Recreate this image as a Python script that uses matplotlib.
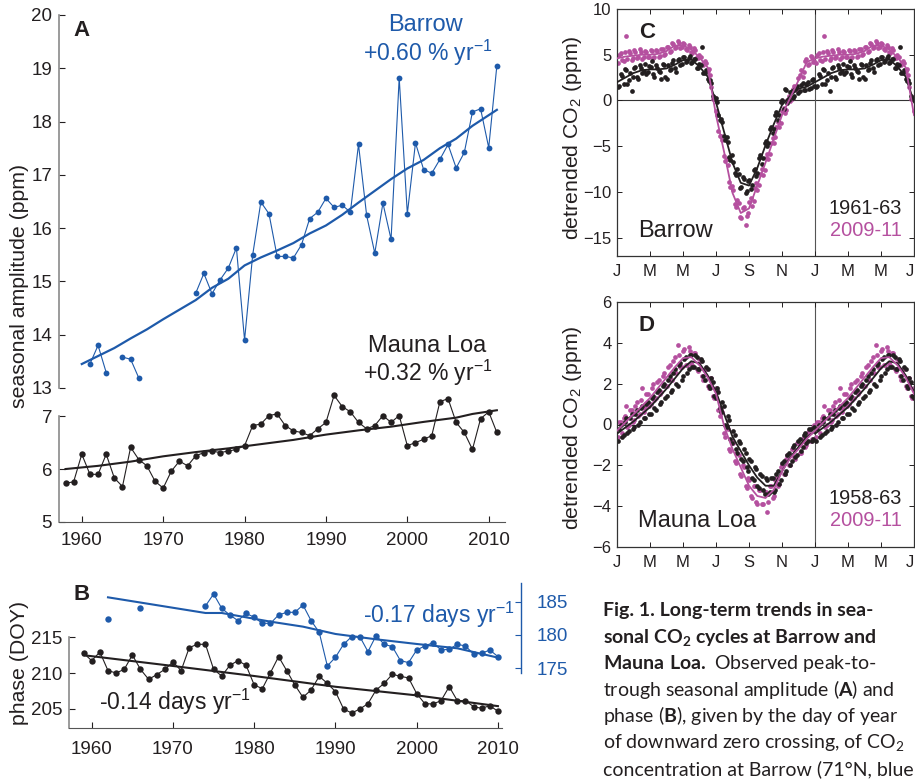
import numpy as np
import matplotlib
matplotlib.use("Agg")
import matplotlib.pyplot as plt
from matplotlib import font_manager

W, H = 915, 782
BLUE = "#1e5aaa"
MAGENTA = "#b5509f"
INK = "#231f20"
GRAY = "#8a8a8a"

# --- panel A: peak-to-trough seasonal amplitude (ppm)
brw_amp_years = [1961, 1962, 1963, 1965, 1966, 1967] + list(range(1974, 2012))
brw_amp = [13.45, 13.80, 13.29, 13.58, 13.54, 13.19,
           14.78, 15.15, 14.77, 15.03, 15.25, 15.63, 13.90, 15.50, 16.49, 16.27,
           15.47, 15.47, 15.44, 15.69, 16.18, 16.30, 16.56, 16.39, 16.43, 16.30,
           17.57, 16.24, 15.53, 16.47, 15.79, 18.82, 16.27, 17.60, 17.10, 17.03,
           17.29, 17.57, 17.13, 17.42, 18.18, 18.24, 17.51, 19.05]
brw_trend_years = [1960, 1962, 1964, 1966, 1968, 1970, 1972, 1974, 1976, 1978, 1980, 1982, 1984, 1986,
                   1988, 1990, 1992, 1994, 1996, 1998, 2000, 2002, 2004, 2006, 2008, 2010, 2011]
brw_trend = [13.45, 13.60, 13.75, 13.93, 14.10, 14.29, 14.47, 14.65, 14.88, 15.05, 15.30, 15.45, 15.58, 15.72,
             15.90, 16.05, 16.25, 16.48, 16.70, 16.92, 17.12, 17.28, 17.50, 17.68, 17.92, 18.12, 18.22]

mlo_amp_years = list(range(1958, 2012))
mlo_amp = [5.73, 5.76, 6.28, 5.90, 5.90, 6.28, 5.83, 5.67, 6.41, 6.18,
           6.06, 5.77, 5.64, 5.96, 6.15, 6.06, 6.25, 6.31, 6.34, 6.31,
           6.34, 6.37, 6.44, 6.82, 6.85, 7.01, 7.04, 6.82, 6.72, 6.69,
           6.63, 6.76, 6.88, 7.39, 7.18, 7.08, 6.88, 6.76, 6.82, 7.01,
           6.88, 7.01, 6.44, 6.50, 6.56, 6.63, 7.27, 7.33, 6.88, 6.69,
           6.37, 6.95, 7.08, 6.69]
mlo_trend_years = [1958, 1962, 1966, 1970, 1974, 1978, 1982, 1986, 1990, 1994, 1998, 2002, 2006, 2008, 2011]
mlo_trend = [6.00, 6.06, 6.14, 6.24, 6.32, 6.39, 6.47, 6.55, 6.65, 6.73, 6.80, 6.89, 6.97, 7.04, 7.11]

# --- panel B: phase, day of year of downward zero crossing
mlo_phase_years = list(range(1959, 2011))
mlo_phase = [212.77, 211.74, 212.95, 210.35, 210.02, 210.53, 212.53, 210.53, 209.14, 209.79,
             210.53, 211.56, 210.35, 213.56, 214.02, 214.02, 210.53, 209.60, 211.09, 211.74,
             211.09, 208.35, 207.84, 210.07, 212.30, 210.35, 208.35, 206.63, 207.65, 209.56,
             208.58, 207.42, 205.00, 204.44, 205.00, 205.74, 207.65, 208.58, 209.84, 209.56,
             209.33, 207.14, 205.74, 205.70, 206.16, 208.12, 206.16, 206.16, 205.33, 205.09,
             205.47, 204.67]
mlo_phase_trend_years = [1959, 1970, 1980, 1990, 2000, 2010]
mlo_phase_trend = [212.5, 211.0, 209.6, 208.1, 206.9, 205.4]

brw_phase_years = [1962, 1966] + list(range(1974, 2011))
brw_phase = [182.35, 184.00,
             184.35, 186.15, 184.00, 183.00, 182.15, 183.25, 182.65, 181.75, 181.75, 183.00,
             183.40, 183.40, 184.50, 182.15, 180.40, 175.35, 176.65, 178.60, 179.75, 179.75,
             177.50, 179.90, 178.60, 178.25, 176.15, 175.85, 177.75, 178.35, 178.85, 177.75,
             177.85, 178.60, 178.35, 177.15, 177.25, 177.75, 176.75]
brw_phase_trend_years = [1962, 1974, 1976, 1982, 1986, 1990, 1995, 2000, 2005, 2010]
brw_phase_trend = [185.65, 183.30, 183.30, 182.00, 181.25, 180.15, 179.35, 178.65, 178.00, 176.60]

# --- panels C, D: detrended CO2 over the year (ppm), two interleaved sample sets
sample_day_a = np.arange(2, 365, 5)
sample_day_b = np.arange(4, 366, 5)
brw_early_a = [1.5, 2.9, 1.8, 3.3, 2.2, 1.0, 3.6, 2.6, 3.9, 3.0,
               4.0, 3.1, 3.7, 2.9, 3.9, 3.2, 2.4, 3.9, 2.3, 3.3,
               4.1, 3.6, 4.4, 3.9, 4.7, 4.2, 4.6, 4.1, 4.5, 3.6,
               4.0, 5.9, 3.0, 2.3, 2.2, 0.5, 0.3, -1.6, -2.0, -3.9,
               -4.0, -6.2, -6.0, -7.9, -7.5, -9.6, -8.4, -10.1, -8.8, -9.7,
               -7.6, -8.3, -6.3, -6.9, -4.6, -5.0, -3.1, -3.5, -1.6, -2.1,
               -0.2, -0.9, 1.2, 0.1, 1.0, 0.5, 1.6, 1.0, 1.9, 1.2,
               2.0, 1.4, 2.4]
brw_early_b = [1.6, 2.7, 3.4, 1.8, 3.0, 2.6, 3.7, 2.3, 3.6, 3.2,
               2.9, 3.8, 4.3, 2.6, 3.6, 3.1, 4.0, 2.6, 3.9, 3.4,
               4.4, 3.1, 4.5, 4.0, 4.8, 4.3, 4.9, 4.2, 4.5, 3.6,
               3.9, 3.0, 3.3, 2.1, 1.9, 0.2, -0.2, -2.1, -2.4, -4.3,
               -4.5, -6.5, -6.7, -8.2, -8.0, -9.5, -8.6, -9.9, -8.7, -9.2,
               -7.5, -7.9, -6.0, -6.3, -4.4, -4.7, -2.9, -3.1, -1.3, -1.6,
               0.0, 1.3, -0.3, 0.9, 0.3, 1.3, 0.8, 1.7, 1.1, 1.8,
               1.3, 2.2, 1.6]
brw_late_a = [4.1, 5.2, 4.3, 7.0, 5.4, 4.4, 5.5, 4.6, 5.6, 4.5,
              5.4, 4.7, 5.5, 4.6, 5.5, 4.8, 5.6, 5.0, 5.9, 5.3,
              6.3, 5.7, 6.5, 5.7, 6.3, 5.6, 6.1, 5.3, 5.7, 4.7,
              5.0, 4.0, 4.3, 3.2, 2.8, 0.2, -1.1, -3.3, -3.9, -6.1,
              -6.4, -8.9, -9.3, -11.3, -10.9, -12.7, -11.7, -13.6, -12.3, -10.7,
              -11.0, -9.0, -9.2, -7.5, -7.6, -5.8, -5.8, -4.1, -4.0, -2.4,
              -2.5, -0.8, -1.0, 0.5, 0.2, 1.6, 1.2, 2.8, 2.6, 4.3,
              3.9, 4.9, 4.2]
brw_late_b = [5.0, 4.4, 5.3, 4.5, 5.2, 4.6, 5.3, 4.7, 5.3, 4.8,
              5.3, 4.7, 5.4, 4.8, 5.4, 4.9, 5.6, 5.1, 5.8, 5.4,
              6.2, 5.8, 6.3, 5.8, 6.2, 5.5, 5.9, 5.2, 5.5, 4.6,
              4.8, 3.9, 4.1, 3.4, 1.5, 0.4, -1.6, -3.9, -4.3, -6.6,
              -7.0, -9.5, -9.8, -11.6, -11.2, -12.9, -11.6, -12.6, -11.1, -11.5,
              -9.6, -9.8, -8.0, -8.1, -6.3, -6.4, -4.6, -4.6, -2.9, -2.9,
              -1.2, -1.4, 0.0, -0.1, 1.3, 1.1, 2.5, 3.3, 3.1, 4.5,
              4.0, 4.8, 4.3]
mlo_early_a = [-0.8, 0.0, -0.5, 0.3, -0.3, 0.5, -0.1, 0.7, 0.1, 0.9,
               0.3, 1.1, 0.5, 1.4, 0.7, 1.7, 1.1, 2.0, 1.4, 2.4,
               1.7, 2.7, 1.9, 3.0, 2.4, 3.3, 2.7, 3.4, 2.8, 3.3,
               2.7, 3.1, 2.2, 2.7, 1.8, 2.1, 1.3, 1.6, 0.6, 0.9,
               -0.1, 0.2, -0.9, -0.5, -1.4, -0.9, -1.8, -1.4, -2.3, -1.8,
               -2.7, -2.2, -3.1, -2.5, -3.4, -2.7, -3.3, -2.6, -3.2, -2.3,
               -2.7, -1.8, -2.3, -1.4, -1.8, -1.0, -1.5, -0.7, -1.1, -0.4,
               -0.8, -0.2, -0.7]
mlo_early_b = [-0.2, -0.6, 0.1, -0.4, 0.3, -0.2, 0.5, 0.0, 0.8, 0.3,
               1.0, 0.5, 1.3, 0.8, 1.6, 1.0, 1.9, 1.3, 2.2, 1.6,
               2.5, 2.0, 2.9, 2.2, 3.2, 2.5, 3.4, 2.8, 3.4, 2.7,
               3.2, 2.4, 2.8, 1.9, 2.3, 1.4, 1.8, 0.8, 1.1, 0.0,
               0.4, -0.7, -0.3, -1.2, -0.8, -1.7, -1.2, -2.1, -1.7, -2.6,
               -2.1, -3.0, -2.4, -3.2, -2.6, -3.4, -2.6, -3.3, -2.4, -2.9,
               -1.9, -2.4, -1.5, -2.0, -1.1, -1.6, -0.8, -1.3, -0.5, -0.9,
               -0.2, -0.8, -0.1]
mlo_late_a = [-0.6, 0.1, 0.3, 0.9, 0.0, 0.7, 0.2, 1.1, 0.5, 1.8,
              0.8, 1.5, 1.0, 2.0, 1.3, 2.2, 1.6, 2.5, 1.9, 2.9,
              2.2, 3.3, 3.9, 2.8, 3.6, 2.9, 3.8, 3.0, 3.5, 2.7,
              3.2, 2.4, 2.7, 1.9, 2.3, 1.4, 1.8, 0.7, 0.8, -0.4,
              -0.1, -1.2, -0.8, -1.8, -1.4, -2.4, -2.0, -3.0, -2.6, -3.5,
              -3.0, -3.8, -3.2, -3.9, -3.3, -4.3, -3.0, -3.6, -2.7, -3.0,
              -2.1, -2.4, -1.7, -2.0, -1.2, -1.6, -0.9, -1.4, -0.7, -1.1,
              -0.4, -0.8, -0.1]
mlo_late_b = [0.1, -0.4, 0.4, -0.1, 0.7, 0.1, 0.9, 0.4, 1.2, 0.6,
              1.5, 0.9, 1.8, 1.2, 2.1, 1.5, 2.4, 1.9, 2.8, 2.2,
              3.1, 2.5, 3.4, 2.8, 3.7, 2.9, 3.6, 2.9, 3.5, 2.6,
              3.1, 2.2, 2.7, 1.8, 2.3, 1.3, 1.7, 0.4, 0.6, -0.6,
              -0.2, -1.3, -0.9, -1.9, -1.5, -2.5, -2.1, -3.1, -2.7, -3.6,
              -3.0, -3.9, -3.2, -3.9, -3.3, -3.8, -3.0, -3.5, -2.6, -2.9,
              -2.0, -2.4, -1.5, -2.0, -1.2, -1.7, -0.9, -1.4, -0.6, -1.0,
              -0.3, -0.7, 0.0]

fit_month = np.arange(0, 12.5, 0.5)
brw_fit_early = [2.0, 2.5, 3.0, 3.3, 3.4, 3.4, 3.5, 3.9, 4.4, 4.5, 3.7, 2.6, -0.2,
                 -3.5, -6.8, -9.0, -9.3, -7.4, -4.9, -2.6, -0.5, 0.5, 1.3, 1.5, 2.0]
brw_fit_late = [4.6, 4.8, 4.9, 5.0, 5.0, 5.1, 5.4, 6.0, 6.0, 5.6, 4.7, 3.6, -1.6,
                -5.7, -10.1, -12.3, -11.8, -9.3, -6.8, -4.2, -1.6, 0.3, 2.2, 4.2, 4.6]
mlo_fit_early = [-0.45, -0.15, 0.15, 0.5, 0.85, 1.3, 1.75, 2.25, 2.75, 3.1, 3.0, 2.4, 1.6,
                 0.5, -0.6, -1.3, -2.0, -2.6, -3.0, -3.0, -2.3, -1.6, -1.1, -0.6, -0.35]
mlo_fit_late = [-0.3, 0.1, 0.5, 0.9, 1.3, 1.8, 2.3, 2.8, 3.25, 3.3, 2.9, 2.3, 1.5,
                -0.1, -1.2, -2.1, -3.0, -3.5, -3.6, -3.2, -2.3, -1.65, -1.2, -0.7, -0.3]

month_ticks = np.arange(0, 19, 2)
month_labels = ["J", "M", "M", "J", "S", "N", "J", "M", "M", "J"]

caption_lines = [
    ("Fig. 1. Long-term trends in sea-", "bold"),
    ("sonal CO$_2$ cycles at Barrow and", "bold"),
    (r"$\mathbf{Mauna\ Loa.}$ Observed peak-to-", "normal"),
    (r"trough seasonal amplitude ($\mathbf{A}$) and", "normal"),
    (r"phase ($\mathbf{B}$), given by the day of year", "normal"),
    ("of downward zero crossing, of CO$_2$", "normal"),
    ("concentration at Barrow (71°N, blue", "normal"),
]


def pick_font(candidates):
    names = {f.name for f in font_manager.fontManager.ttflist}
    for name in candidates:
        if name in names:
            return name
    return "DejaVu Sans"


def px_axes(fig, left, top, right, bottom):
    return fig.add_axes([left / W, 1 - bottom / H, (right - left) / W, (bottom - top) / H])


def px_text(fig, x, y, s, **kw):
    return fig.text(x / W, 1 - y / H, s, **kw)


def with_gaps(years, values):
    years = np.asarray(years, float)
    values = np.asarray(values, float)
    breaks = np.where(np.diff(years) > 1)[0] + 1
    return np.insert(years, breaks, np.nan), np.insert(values, breaks, np.nan)


def two_years(x, y, xmax=18):
    x = np.asarray(x, float)
    y = np.asarray(y, float)
    xx = np.concatenate([x, x + 12])
    yy = np.concatenate([y, y])
    keep = xx <= xmax
    return xx[keep], yy[keep]


def seasonal_panel(ax, early, late, fit_early, fit_late, ylim, yticks):
    days = (sample_day_a, sample_day_b)
    for sets, color in ((late, MAGENTA), (early, INK)):
        for day, vals in zip(days, sets):
            xs, ys = two_years(day / 365 * 12, vals)
            ax.plot(xs, ys, "o", ms=3.4, mec="none", mfc=color, zorder=2)
    for fit, color in ((fit_early, INK), (fit_late, MAGENTA)):
        xs, ys = two_years(fit_month, fit)
        ax.plot(xs, ys, "-", color=color, lw=1.3, zorder=3)
    ax.axhline(0, color="#333333", lw=0.8, zorder=1)
    ax.axvline(12, color="#555555", lw=0.8, zorder=1)
    ax.set_xlim(0, 18)
    ax.set_ylim(*ylim)
    ax.set_xticks(month_ticks)
    ax.set_xticklabels(month_labels)
    ax.get_xticklabels()[-1].set_horizontalalignment("right")
    ax.set_yticks(yticks)
    ax.tick_params(direction="in", top=True, right=True, length=3.5, width=0.7,
                   labelsize=12, colors=INK, pad=4)
    ax.tick_params(axis="x", pad=6)
    for sp in ax.spines.values():
        sp.set_color("#333333")
        sp.set_linewidth(0.9)


def main():
    main_font = pick_font(["Liberation Sans", "Arial", "Helvetica"])
    cap_font = pick_font(["Lato", "Open Sans", "Liberation Sans"])
    plt.rcParams["font.family"] = [main_font, "DejaVu Sans"]
    plt.rcParams["mathtext.fontset"] = "custom"
    plt.rcParams["mathtext.rm"] = cap_font
    plt.rcParams["mathtext.bf"] = cap_font + ":bold"
    plt.rcParams["mathtext.default"] = "regular"
    plt.rcParams["text.color"] = INK

    fig = plt.figure(figsize=(W / 100, H / 100), dpi=100)

    # ---------------- A (broken axis: Barrow above, Mauna Loa below)
    xlim_a = (1957.2, 2012.0)
    ax_top = px_axes(fig, 59, 15, 505, 388)
    ax_bot = px_axes(fig, 59, 388, 505, 522)
    for ax in (ax_top, ax_bot):
        ax.set_xlim(*xlim_a)
        ax.patch.set_visible(False)
        for side in ("top", "right"):
            ax.spines[side].set_visible(False)
        ax.spines["left"].set_color(GRAY)
        ax.spines["left"].set_linewidth(1.2)
        ax.tick_params(direction="in", length=4, width=0.8, labelsize=13.5, colors=INK, pad=5)
    ax_top.spines["bottom"].set_visible(False)
    ax_top.xaxis.set_visible(False)
    ax_top.set_ylim(13, 20)
    ax_top.set_yticks(range(13, 21))
    ax_top.spines["left"].set_bounds(13, 20)

    ax_bot.set_ylim(5, 7.53)
    ax_bot.set_yticks([5, 6, 7])
    ax_bot.spines["left"].set_bounds(5, 7)
    ax_bot.spines["bottom"].set_color("#555555")
    ax_bot.set_xticks(range(1960, 2011, 10))
    ax_bot.tick_params(axis="x", pad=7)

    x, y = with_gaps(brw_amp_years, brw_amp)
    ax_top.plot(x, y, "-", color=BLUE, lw=0.8)
    ax_top.plot(brw_amp_years, brw_amp, "o", color=BLUE, ms=4.2, mec="none")
    ax_top.plot(brw_trend_years, brw_trend, "-", color=BLUE, lw=1.6)

    ax_bot.plot(mlo_amp_years, mlo_amp, "-", color=INK, lw=0.8, clip_on=False)
    ax_bot.plot(mlo_amp_years, mlo_amp, "o", color=INK, ms=4.6, mec="none", clip_on=False)
    ax_bot.plot(mlo_trend_years, mlo_trend, "-", color=INK, lw=1.5)

    px_text(fig, 82, 30, "A", fontsize=16, fontweight="bold", ha="center", va="center")
    px_text(fig, 425, 25, "Barrow", fontsize=17, color=BLUE, ha="center", va="center")
    px_text(fig, 428, 53, "+0.60 % yr$^{-1}$", fontsize=16.5, color=BLUE, ha="center", va="center")
    px_text(fig, 427, 346, "Mauna Loa", fontsize=17, ha="center", va="center")
    px_text(fig, 428, 373, "+0.32 % yr$^{-1}$", fontsize=16.5, ha="center", va="center")
    px_text(fig, 20, 286, "seasonal amplitude (ppm)", fontsize=15.3, rotation=90,
            ha="center", va="center")

    # ---------------- B (phase, Barrow on the offset right axis)
    ax_b = px_axes(fig, 69, 583, 502, 728)
    ax_b.patch.set_visible(False)
    ax_b.set_xlim(1957.2, 2010.5)
    ax_b.set_ylim(202.35, 222.57)
    ax_b.set_yticks([205, 210, 215])
    ax_b.set_xticks(range(1960, 2011, 10))
    for side in ("top", "right"):
        ax_b.spines[side].set_visible(False)
    ax_b.spines["left"].set_color(GRAY)
    ax_b.spines["left"].set_linewidth(1.2)
    ax_b.spines["left"].set_bounds(202.35, 215)
    ax_b.spines["bottom"].set_color("#555555")
    ax_b.tick_params(direction="in", length=4, width=0.8, labelsize=13.5, colors=INK, pad=5)
    ax_b.tick_params(axis="x", pad=9)

    ax_b.plot(mlo_phase_years, mlo_phase, "-", color=INK, lw=0.8)
    ax_b.plot(mlo_phase_years, mlo_phase, "o", color=INK, ms=4.6, mec="none")
    ax_b.plot(mlo_phase_trend_years, mlo_phase_trend, "-", color=INK, lw=1.5)

    ax_b2 = ax_b.twinx()
    ax_b2.set_ylim(166.04, 187.8)
    ax_b2.set_yticks([175, 180, 185])
    for side in ("top", "left", "bottom"):
        ax_b2.spines[side].set_visible(False)
    ax_b2.spines["right"].set_position(("outward", 13.7))
    ax_b2.spines["right"].set_bounds(174.3, 187.8)
    ax_b2.spines["right"].set_color(BLUE)
    ax_b2.spines["right"].set_linewidth(1.0)
    ax_b2.tick_params(direction="in", length=4, width=0.8, labelsize=13.5, colors=BLUE, pad=11)

    x, y = with_gaps(brw_phase_years, brw_phase)
    ax_b2.plot(x, y, "-", color=BLUE, lw=0.8)
    ax_b2.plot(brw_phase_years, brw_phase, "o", color=BLUE, ms=4.6, mec="none")
    ax_b2.plot(brw_phase_trend_years, brw_phase_trend, "-", color=BLUE, lw=1.5)

    px_text(fig, 82, 595, "B", fontsize=16, fontweight="bold", ha="center", va="center")
    px_text(fig, 363, 615, "-0.17 days yr$^{-1}$", fontsize=16.5, color=BLUE, ha="left", va="center")
    px_text(fig, 99, 702, "-0.14 days yr$^{-1}$", fontsize=16.5, ha="left", va="center")
    px_text(fig, 20, 663, "phase (DOY)", fontsize=15.3, rotation=90, ha="center", va="center")

    # ---------------- C and D (detrended seasonal cycles)
    ax_c = px_axes(fig, 617, 9, 914, 256)
    seasonal_panel(ax_c, (brw_early_a, brw_early_b), (brw_late_a, brw_late_b),
                   brw_fit_early, brw_fit_late, (-17, 10), [-15, -10, -5, 0, 5, 10])
    ax_d = px_axes(fig, 617, 302, 914, 547)
    seasonal_panel(ax_d, (mlo_early_a, mlo_early_b), (mlo_late_a, mlo_late_b),
                   mlo_fit_early, mlo_fit_late, (-6, 6), [-6, -4, -2, 0, 2, 4, 6])

    px_text(fig, 647, 32, "C", fontsize=16, fontweight="bold", ha="center", va="center")
    px_text(fig, 638, 231, "Barrow", fontsize=17, ha="left", va="center")
    px_text(fig, 902, 209, "1961-63", fontsize=14.4, ha="right", va="center")
    px_text(fig, 902, 231, "2009-11", fontsize=14.4, color=MAGENTA, ha="right", va="center")
    px_text(fig, 572, 138, "detrended CO$_2$ (ppm)", fontsize=15.3, rotation=90, ha="center", va="center")

    px_text(fig, 647, 326, "D", fontsize=16, fontweight="bold", ha="center", va="center")
    px_text(fig, 638, 521, "Mauna Loa", fontsize=17, ha="left", va="center")
    px_text(fig, 902, 498, "1958-63", fontsize=14.4, ha="right", va="center")
    px_text(fig, 902, 521, "2009-11", fontsize=14.4, color=MAGENTA, ha="right", va="center")
    px_text(fig, 572, 428, "detrended CO$_2$ (ppm)", fontsize=15.3, rotation=90, ha="center", va="center")

    # ---------------- caption column, sized so the longest line ends at the page edge
    baselines = [616, 643, 669, 696, 722, 748, 775]
    cap_texts = []
    for (line, weight), base in zip(caption_lines, baselines):
        cap_texts.append(px_text(fig, 603, base, line, fontsize=13, fontweight=weight,
                                 family=[cap_font, "DejaVu Sans"], ha="left", va="baseline"))
    renderer = fig.canvas.get_renderer()
    widest = max(t.get_window_extent(renderer).width for t in cap_texts)
    size = 13 * min(1.4, 309 / widest)
    for t in cap_texts:
        t.set_fontsize(size)

    fig.savefig("out.png", dpi=100)
    plt.close(fig)


if __name__ == "__main__":
    main()
